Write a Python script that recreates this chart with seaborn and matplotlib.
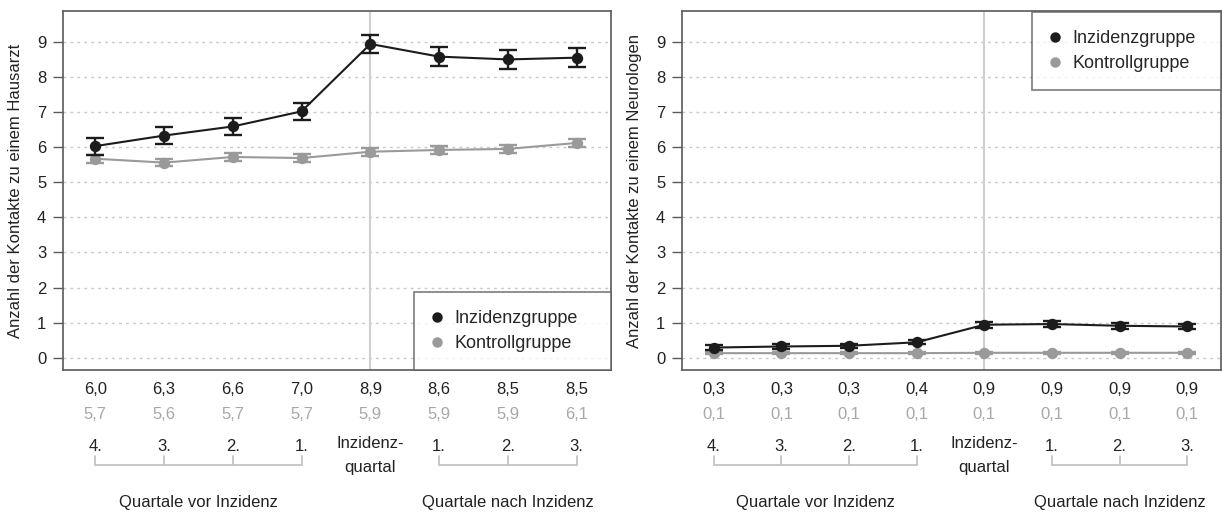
import pandas as pd
import matplotlib
matplotlib.use("Agg")
import matplotlib.pyplot as plt
import matplotlib.transforms as mtransforms
from matplotlib.lines import Line2D
import seaborn as sns

# Quartale relativ zur Inzidenz (1..8, Inzidenzquartal = 5)
quartale = [1, 2, 3, 4, 5, 6, 7, 8]

# Hausarzt
haus_inz = [6.03, 6.33, 6.59, 7.02, 8.94, 8.58, 8.50, 8.55]
haus_inz_err = [0.24, 0.24, 0.25, 0.24, 0.26, 0.28, 0.27, 0.28]
haus_kon = [5.67, 5.56, 5.72, 5.69, 5.87, 5.92, 5.95, 6.12]
haus_kon_err = [0.11, 0.11, 0.11, 0.11, 0.11, 0.11, 0.11, 0.11]
haus_inz_lbl = ['6,0', '6,3', '6,6', '7,0', '8,9', '8,6', '8,5', '8,5']
haus_kon_lbl = ['5,7', '5,6', '5,7', '5,7', '5,9', '5,9', '5,9', '6,1']

# Neurologe
neuro_inz = [0.29, 0.32, 0.34, 0.44, 0.94, 0.96, 0.91, 0.89]
neuro_inz_err = [0.06, 0.06, 0.06, 0.06, 0.08, 0.08, 0.08, 0.08]
neuro_kon = [0.13, 0.13, 0.13, 0.13, 0.14, 0.14, 0.14, 0.14]
neuro_kon_err = [0.02, 0.02, 0.02, 0.02, 0.02, 0.02, 0.02, 0.02]
neuro_inz_lbl = ['0,3', '0,3', '0,3', '0,4', '0,9', '0,9', '0,9', '0,9']
neuro_kon_lbl = ['0,1'] * 8

quartal_lbl = ['4.', '3.', '2.', '1.', '', '1.', '2.', '3.']

BLACK = '#1c1c1c'
GRAY = '#9a9a9a'
FRAME = '#5a5a5a'
FS = 12

sns.set_theme(style='white')
plt.rcParams['font.family'] = ['Liberation Sans', 'DejaVu Sans']

fig = plt.figure(figsize=(12.22, 5.16), dpi=100)
ax1 = fig.add_axes([63 / 1222, 1 - 370 / 516, 548 / 1222, 359 / 516])
ax2 = fig.add_axes([682 / 1222, 1 - 370 / 516, 539 / 1222, 359 / 516])


def panel(ax, inz, inz_err, kon, kon_err, inz_lbl, kon_lbl, ylabel, leg_box):
    df = pd.DataFrame({
        'quartal': quartale * 2,
        'wert': kon + inz,
        'gruppe': ['Kontrollgruppe'] * 8 + ['Inzidenzgruppe'] * 8,
    })
    ax.axvline(5, color='#cfcfcf', lw=1.5, zorder=1)
    for y in range(10):
        ax.axhline(y, color='#c8c8c8', lw=1, ls=(0, (2, 3)), zorder=0)
    ax.errorbar(quartale, kon, yerr=kon_err, fmt='none', ecolor=GRAY,
                elinewidth=1.7, capsize=6.5, capthick=1.7, zorder=2)
    ax.errorbar(quartale, inz, yerr=inz_err, fmt='none', ecolor=BLACK,
                elinewidth=1.7, capsize=6.5, capthick=1.7, zorder=4)
    sns.lineplot(data=df, x='quartal', y='wert', hue='gruppe',
                 hue_order=['Kontrollgruppe', 'Inzidenzgruppe'],
                 palette={'Inzidenzgruppe': BLACK, 'Kontrollgruppe': GRAY},
                 marker='o', markersize=8.2, markeredgewidth=0, lw=1.5,
                 legend=False, ax=ax, zorder=3)

    ax.set_xlim(0.53, 8.5)
    ax.set_ylim(-0.35, 9.88)
    ax.set_xticks([])
    ax.set_yticks(range(10))
    ax.tick_params(axis='y', left=True, length=7, width=1, color=FRAME,
                   pad=5, labelsize=FS, labelcolor='#222222')
    ax.set_xlabel('')
    ax.set_ylabel(ylabel, fontsize=FS, color='#222222')
    for s in ax.spines.values():
        s.set_color(FRAME)
        s.set_linewidth(1.2)

    handles = [
        Line2D([], [], ls='none', marker='o', color=BLACK, markersize=7.5, markeredgewidth=0),
        Line2D([], [], ls='none', marker='o', color=GRAY, markersize=7.5, markeredgewidth=0),
    ]
    leg = ax.legend(handles, ['Inzidenzgruppe', 'Kontrollgruppe'], loc='lower left',
                    bbox_to_anchor=leg_box, mode='expand',
                    borderaxespad=0, fontsize=13, frameon=True, fancybox=False,
                    borderpad=1.0, labelspacing=0.42, handlelength=0.5,
                    handletextpad=0.75)
    leg.get_frame().set_edgecolor(FRAME)
    leg.get_frame().set_linewidth(1.2)
    leg.set_zorder(5)

    # Beschriftung unter der Achse
    tr = mtransforms.blended_transform_factory(ax.transData, ax.transAxes)
    for q, a, b, c in zip(quartale, inz_lbl, kon_lbl, quartal_lbl):
        ax.text(q, -0.053, a, transform=tr, ha='center', va='center',
                fontsize=FS, color='#222222')
        ax.text(q, -0.125, b, transform=tr, ha='center', va='center',
                fontsize=FS, color='#a8a8a8')
        if c:
            ax.text(q, -0.212, c, transform=tr, ha='center', va='center',
                    fontsize=FS, color='#222222')
    ax.text(5, -0.205, 'Inzidenz-', transform=tr, ha='center', va='center',
            fontsize=FS, color='#222222')
    ax.text(5, -0.272, 'quartal', transform=tr, ha='center', va='center',
            fontsize=FS, color='#222222')
    for grp, name in [([1, 2, 3, 4], 'Quartale vor Inzidenz'),
                      ([6, 7, 8], 'Quartale nach Inzidenz')]:
        ax.plot([grp[0], grp[-1]], [-0.265, -0.265], transform=tr,
                color='#c4c4c4', lw=1.3, clip_on=False)
        for q in grp:
            ax.plot([q, q], [-0.265, -0.24], transform=tr,
                    color='#c4c4c4', lw=1.3, clip_on=False)
        ax.text((grp[0] + grp[-1]) / 2, -0.37, name, transform=tr,
                ha='center', va='center', fontsize=FS, color='#222222')


panel(ax1, haus_inz, haus_inz_err, haus_kon, haus_kon_err, haus_inz_lbl,
      haus_kon_lbl, 'Anzahl der Kontakte zu einem Hausarzt',
      ((414 - 63) / 548, 0, (611 - 414) / 548, 0.22))
panel(ax2, neuro_inz, neuro_inz_err, neuro_kon, neuro_kon_err, neuro_inz_lbl,
      neuro_kon_lbl, 'Anzahl der Kontakte zu einem Neurologen',
      ((1032 - 682) / 539, 0.78, (1221 - 1032) / 539, 0.22))
ax1.yaxis.set_label_coords(-40 / 548, 0.5)
ax2.yaxis.set_label_coords(-40 / 539, 0.5)

fig.savefig('out.png', dpi=100)
